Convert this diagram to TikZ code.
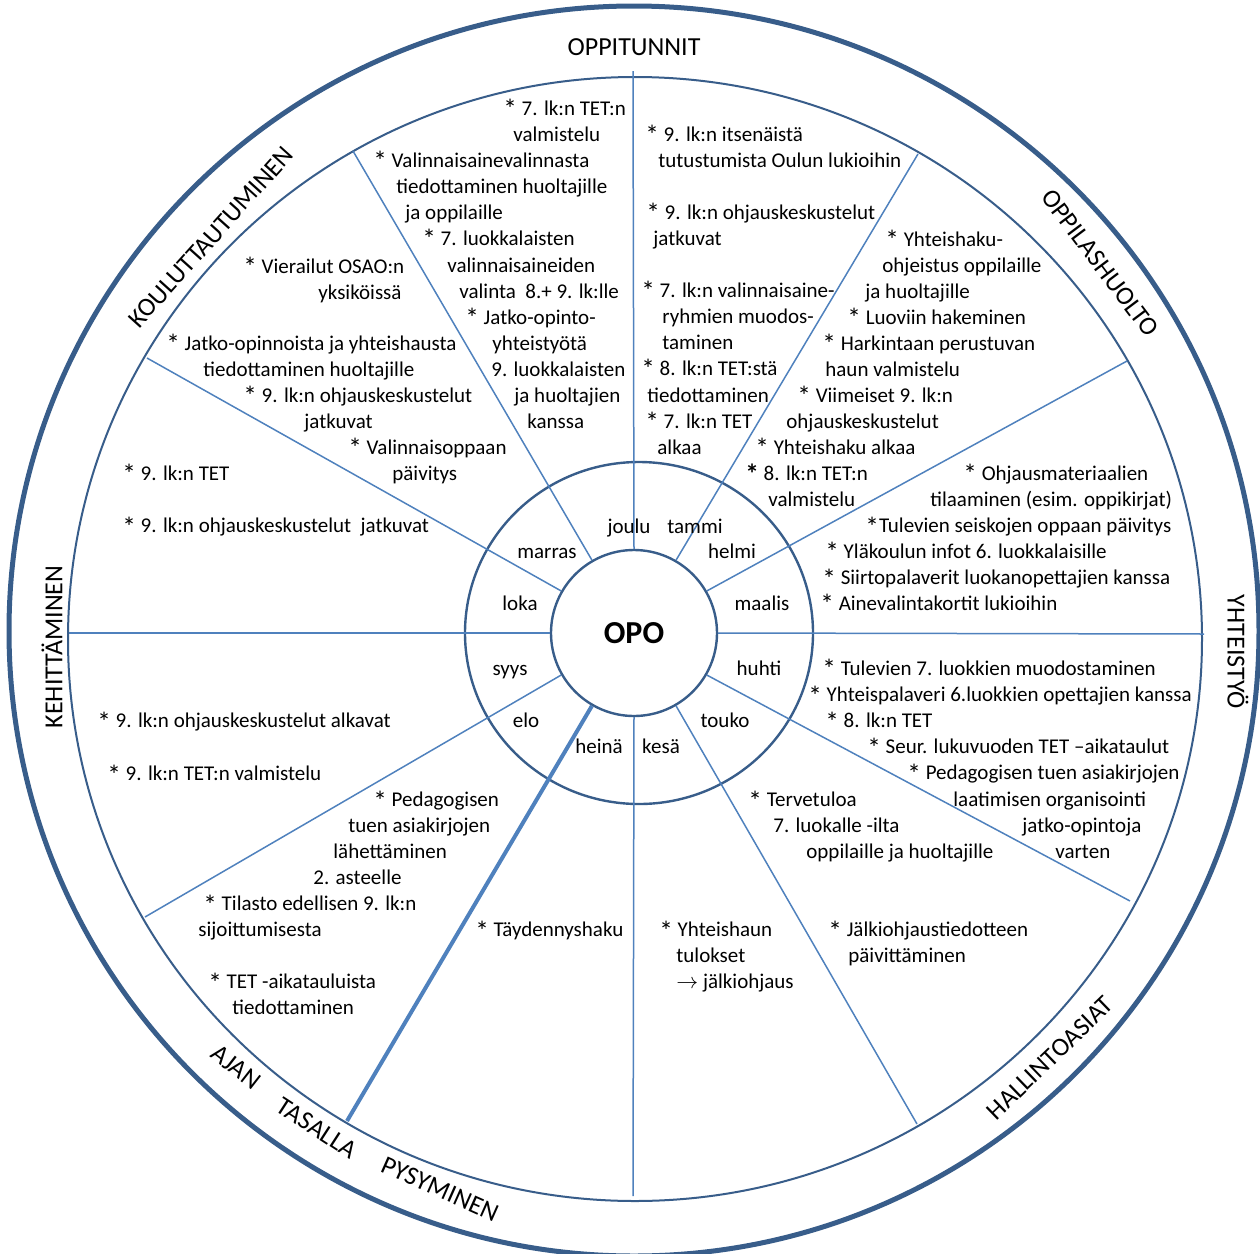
\documentclass[tikz,border=0pt]{standalone}
\usepackage{fontspec}
\setmainfont{Carlito}
\usepackage{tikz}

\definecolor{ringblue}{RGB}{56,93,138}
\definecolor{spokeblue}{RGB}{79,129,189}

% list star, a bit larger and lower than the font's own
\newcommand{\st}{\raisebox{-0.19em}{\scalebox{1.3}{*}}}

\tikzset{
  ring/.style={draw=ringblue, line width=1.2pt},
  spoke/.style={draw=spokeblue, line width=0.75pt},
  item/.style={anchor=base west, inner sep=0pt, yshift=-3.5pt, font=\fontsize{10.5}{13}\selectfont},
  month/.style={item, anchor=base},
  area/.style={inner sep=0pt, font=\fontsize{13}{16}\selectfont}
}

\begin{document}
\begin{tikzpicture}[x=0.5pt, y=0.5pt]
\useasboundingbox (0,0) rectangle (1260,-1254);

% rings
\draw[ring, line width=2.5pt] (634,-631) circle (625);
\draw[ring, line width=1pt] (635,-639) ellipse (567 and 562);
\draw[ring] (639,-633) ellipse (174 and 171);
\node[circle, ring, minimum size=83pt, inner sep=0pt, font=\fontsize{16}{19}\selectfont\bfseries] (opo) at (634,-633) {OPO};

% spokes
\draw[spoke] (opo.90) -- (633,-71);
\draw[spoke] (opo.120) -- (353,-151);
\draw[spoke] (opo.150) -- (147,-358);
\draw[spoke] (opo.180) -- (69,-633);
\draw[spoke] (opo.210) -- (145,-917);
\draw[spoke, line width=2pt] (opo.240) -- (347,-1121);
\draw[spoke] (opo.270) -- (633,-1196);
\draw[spoke] (opo.300) -- (917,-1124);
\draw[spoke] (opo.330) -- (1130,-901);
\draw[spoke] (opo.0) -- (1204,-634);
\draw[spoke] (opo.30) -- (1127,-361);
\draw[spoke] (opo.60) -- (918,-154);

% months
\node[month] (joulu) at (629,-526) {joulu};
\node[month] (tammi) at (695,-526) {tammi};
\node[month] (marras) at (547,-551) {marras};
\node[month] (helmi) at (732,-551) {helmi};
\node[month] (loka) at (520,-603) {loka};
\node[month] (maalis) at (762,-603) {maalis};
\node[month] (syys) at (510,-668) {syys};
\node[month] (huhti) at (759,-668) {huhti};
\node[month] (elo) at (526,-720) {elo};
\node[month] (touko) at (725,-720) {touko};
\node[month] (heina) at (599,-746) {heinä};
\node[month] (kesa) at (661,-746) {kesä};

% areas
\node[area] (oppitunnit) at (634,-47) {OPPITUNNIT};
\node[area, rotate=48] (koulutus) at (211,-237) {KOULUTTAUTUMINEN};
\node[area, rotate=-53] (huolto) at (1100,-263) {OPPILASHUOLTO};
\node[area, rotate=-90] (yhteistyo) at (1238,-652) {YHTEISTYÖ};
\node[area, rotate=44] (hallinto) at (1050,-1058) {HALLINTOASIAT};
\node[area, rotate=90] (kehitys) at (52,-647) {KEHITTÄMINEN};
\node[area, rotate=-38] (ajan) at (236,-1067) {AJAN};
\node[area, rotate=-33] (tasalla) at (317,-1128) {TASALLA};
\node[area, rotate=-24] (pysyminen) at (440,-1189) {PYSYMINEN};

% joulu
\node[item] (jo1) at (503,-108) {\st{} 7. lk:n TET:n};
\node[item] (jo2) at (513,-134) {valmistelu};
\node[item] (jo3) at (373,-160) {\st{} Valinnaisainevalinnasta};
\node[item] (jo4) at (396,-186) {tiedottaminen huoltajille};
\node[item] (jo5) at (405,-212) {ja oppilaille};
\node[item] (jo6) at (422,-238) {\st{} 7. luokkalaisten};
\node[item] (jo7) at (447,-265) {valinnaisaineiden};
\node[item] (jo8) at (459,-291) {valinta\ \ 8.+ 9. lk:lle};
\node[item] (jo9) at (465,-317) {\st{} Jatko-opinto-};
\node[item] (jo10) at (492,-343) {yhteistyötä};
\node[item] (jo11) at (491,-369) {9. luokkalaisten};
\node[item] (jo12) at (514,-395) {ja huoltajien};
\node[item] (jo13) at (527,-421) {kanssa};

% tammi
\node[item] (ta1) at (645,-134) {\st{} 9. lk:n itsenäistä};
\node[item] (ta2) at (658,-160) {tutustumista Oulun lukioihin};
\node[item] (ta3) at (646,-212) {\st{} 9. lk:n ohjauskeskustelut};
\node[item] (ta4) at (653,-238) {jatkuvat};
\node[item] (ta5) at (641,-290) {\st{} 7. lk:n valinnaisaine-};
\node[item] (ta6) at (662,-316) {ryhmien muodos-};
\node[item] (ta7) at (662,-342) {taminen};
\node[item] (ta8) at (641,-368) {\st{} 8. lk:n TET:stä};
\node[item] (ta9) at (647,-395) {tiedottaminen};
\node[item] (ta10) at (645,-421) {\st{} 7. lk:n TET};
\node[item] (ta11) at (657,-447) {alkaa};

% helmi
\node[item] (he1) at (885,-239) {\st{} Yhteishaku-};
\node[item] (he2) at (882,-265) {ohjeistus oppilaille};
\node[item] (he3) at (865,-291) {ja huoltajille};
\node[item] (he4) at (847,-317) {\st{} Luoviin hakeminen};
\node[item] (he5) at (822,-343) {\st{} Harkintaan perustuvan};
\node[item] (he6) at (825,-369) {haun valmistelu};
\node[item] (he7) at (797,-395) {\st{} Viimeiset 9. lk:n};
\node[item] (he8) at (786,-421) {ohjauskeskustelut};
\node[item] (he9) at (755,-447) {\st{} Yhteishaku alkaa};
\node[item] (he10) at (745,-473) {\textbf{\st}{} 8. lk:n TET:n};
\node[item] (he11) at (768,-499) {valmistelu};

% maalis
\node[item] (ma1) at (963,-473) {\st{} Ohjausmateriaalien};
\node[item] (ma2) at (930,-499) {tilaaminen (esim. oppikirjat)};
\node[item] (ma3) at (865,-525) {\st{}Tulevien seiskojen oppaan päivitys};
\node[item] (ma4) at (825,-551) {\st{} Yläkoulun infot 6. luokkalaisille};
\node[item] (ma5) at (822,-577) {\st{} Siirtopalaverit luokanopettajien kanssa};
\node[item] (ma6) at (820,-603) {\st{} Ainevalintakortit lukioihin};

% huhti
\node[item] (hu1) at (822,-668) {\st{} Tulevien 7. luokkien muodostaminen};
\node[item] (hu2) at (808,-694) {\st{} Yhteispalaveri 6.luokkien opettajien kanssa};
\node[item] (hu3) at (825,-720) {\st{} 8. lk:n TET};
\node[item] (hu4) at (867,-746) {\st{} Seur. lukuvuoden TET –aikataulut};
\node[item] (hu5) at (907,-772) {\st{} Pedagogisen tuen asiakirjojen};
\node[item] (hu6) at (953,-799) {laatimisen organisointi};
\node[item] (hu7) at (1022,-825) {jatko-opintoja};
\node[item] (hu8) at (1055,-851) {varten};

% touko
\node[item] (to1) at (748,-799) {\st{} Tervetuloa};
\node[item] (to2) at (773,-825) {7. luokalle -ilta};
\node[item] (to3) at (806,-851) {oppilaille ja huoltajille};
\node[item] (to4) at (828,-929) {\st{} Jälkiohjaustiedotteen};
\node[item] (to5) at (848,-955) {päivittäminen};

% kesa
\node[item] (ke1) at (659,-929) {\st{} Yhteishaun};
\node[item] (ke2) at (676,-955) {tulokset};
\node[item] (ke3) at (676,-981) {$\rightarrow$ jälkiohjaus};

% heina
\node[item] (hn1) at (475,-929) {\st{} Täydennyshaku};

% elo
\node[item] (el1) at (373,-799) {\st{} Pedagogisen};
\node[item] (el2) at (348,-825) {tuen asiakirjojen};
\node[item] (el3) at (333,-851) {lähettäminen};
\node[item] (el4) at (313,-877) {2. asteelle};
\node[item] (el5) at (203,-903) {\st{} Tilasto edellisen 9. lk:n};
\node[item] (el6) at (198,-929) {sijoittumisesta};
\node[item] (el7) at (208,-981) {\st{} TET -aikatauluista};
\node[item] (el8) at (232,-1007) {tiedottaminen};

% syys
\node[item] (sy1) at (97,-720) {\st{} 9. lk:n ohjauskeskustelut alkavat};
\node[item] (sy2) at (107,-773) {\st{} 9. lk:n TET:n valmistelu};

% loka
\node[item] (lo1) at (122,-473) {\st{} 9. lk:n TET};
\node[item] (lo2) at (122,-525) {\st{} 9. lk:n ohjauskeskustelut\ \ jatkuvat};

% marras
\node[item] (mr1) at (243,-266) {\st{} Vierailut OSAO:n};
\node[item] (mr2) at (318,-292) {yksiköissä};
\node[item] (mr3) at (166,-343) {\st{} Jatko-opinnoista ja yhteishausta};
\node[item] (mr4) at (203,-369) {tiedottaminen huoltajille};
\node[item] (mr5) at (243,-395) {\st{} 9. lk:n ohjauskeskustelut};
\node[item] (mr6) at (304,-421) {jatkuvat};
\node[item] (mr7) at (348,-447) {\st{} Valinnaisoppaan};
\node[item] (mr8) at (392,-473) {päivitys};
\end{tikzpicture}
\end{document}
